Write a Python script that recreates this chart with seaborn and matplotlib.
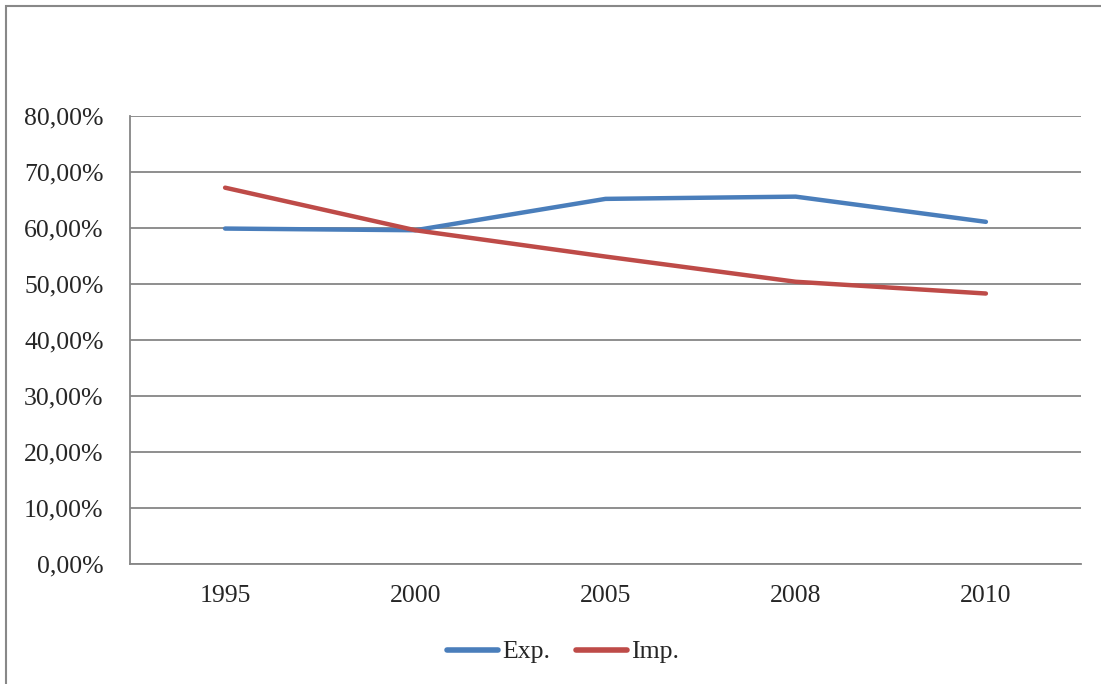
import numpy as np
import pandas as pd
import matplotlib.pyplot as plt
import matplotlib.patches as patches
from matplotlib.ticker import FuncFormatter
import seaborn as sns

# ---- data ----
years = ['1995', '2000', '2005', '2008', '2010']
exp_values = [59.9, 59.6, 65.2, 65.6, 61.1]
imp_values = [67.2, 59.6, 54.9, 50.4, 48.3]
series_names = ['Exp.', 'Imp.']
y_ticks = [0, 10, 20, 30, 40, 50, 60, 70, 80]

df = pd.DataFrame({
    'year': years * 2,
    'value': exp_values + imp_values,
    'series': [series_names[0]] * len(years) + [series_names[1]] * len(years),
})

sns.set_style('white')
plt.rcParams['font.family'] = ['Liberation Serif', 'DejaVu Serif']

fig = plt.figure(figsize=(11.01, 6.84), dpi=100)
ax = fig.add_axes([130 / 1101, 1 - 564 / 684, 951 / 1101, 448 / 684])

sns.lineplot(data=df, x='year', y='value', hue='series', sort=False,
             palette={'Exp.': '#4A7EBB', 'Imp.': '#BE4B48'},
             linewidth=3.2, ax=ax, legend=True)
for line in ax.get_lines():
    line.set_solid_capstyle('round')
    line.set_solid_joinstyle('round')

ax.set_xlim(-0.5, len(years) - 0.5)
ax.set_ylim(0, 80)
ax.set_yticks(y_ticks)
ax.yaxis.set_major_formatter(FuncFormatter(lambda v, p: f'{v:.2f}%'.replace('.', ',')))
ax.grid(axis='y', color='#868686', linewidth=1.3)
ax.set_axisbelow(True)
ax.set_xlabel('')
ax.set_ylabel('')
ax.tick_params(axis='y', length=0, pad=19, labelsize=18.5)
ax.tick_params(axis='x', length=0, pad=15, labelsize=18.5)

for side in ['top', 'right']:
    ax.spines[side].set_visible(False)
for side in ['left', 'bottom']:
    ax.spines[side].set_color('#868686')
    ax.spines[side].set_linewidth(1.3)

leg = ax.legend(loc='center', bbox_to_anchor=(563 / 1101, 1 - 652 / 684),
                bbox_transform=fig.transFigure, ncol=2, frameon=False,
                fontsize=18.5, handlelength=2.0, handletextpad=0.15,
                columnspacing=1.0)
for h in leg.get_lines():
    h.set_linewidth(4)
    h.set_solid_capstyle('round')

# outer chart border (runs past right and bottom edges)
fig.patches.append(patches.Rectangle((6 / 1101, -0.05), 1.2, 1 - 6 / 684 + 0.05,
                                     transform=fig.transFigure, fill=False,
                                     edgecolor='#888888', linewidth=1.5))

plt.savefig('out.png', dpi=100)
